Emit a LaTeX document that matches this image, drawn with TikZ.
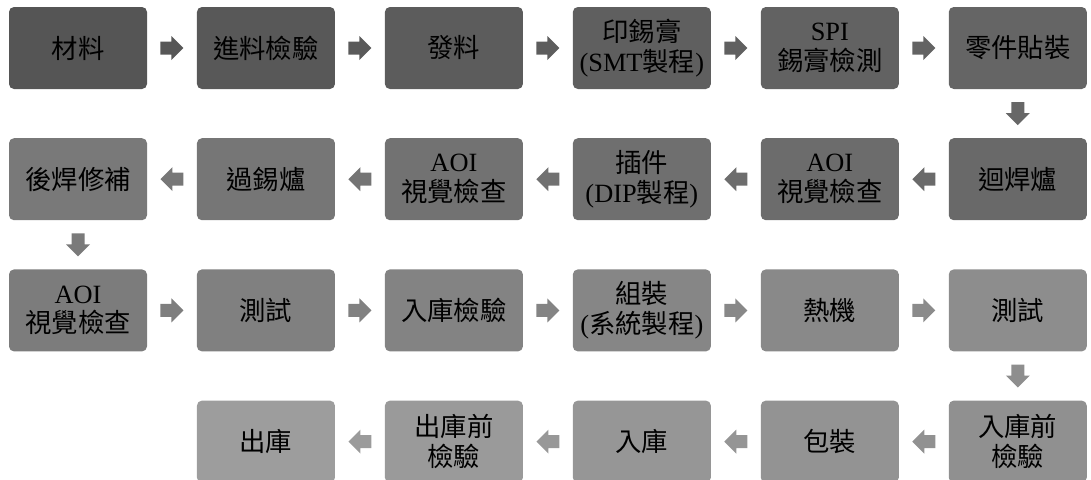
\documentclass[tikz,border=0pt]{standalone}
\usepackage{fontspec}
\setmainfont{Liberation Serif}
\newfontfamily\cjk{Noto Sans CJK TC}
\newcommand{\lat}{\rmfamily}
\usepackage{tikz}
\usetikzlibrary{shapes,arrows}
\usetikzlibrary{positioning,calc}

\begin{document}
\begin{tikzpicture}[auto, node distance=0.97cm and 0.985cm]
\tikzstyle{box}=[rectangle,rounded corners=0.1cm,minimum width=2.76cm,minimum height=1.64cm,
  inner sep=1pt,align=center,text=black,font=\cjk\fontsize{15pt}{17pt}\selectfont]
\tikzset{blk/.pic={\fill[pic actions] (-0.23,0.13) -- (-0.01,0.13) -- (-0.01,0.24) -- (0.23,0)
  -- (-0.01,-0.24) -- (-0.01,-0.13) -- (-0.23,-0.13) -- cycle;}}
\tikzstyle{rarr}=[]
\tikzstyle{larr}=[rotate=180]
\tikzstyle{darr}=[rotate=-90]
\useasboundingbox (0,0) rectangle (21.82,-9.58);
% row 1
\node[box,fill=black!66.7] (a1) at (1.56,-0.96) {材料};
\node[box,fill=black!65.4] (a2) [right=of a1] {進料檢驗};
\node[box,fill=black!64.1] (a3) [right=of a2] {發料};
\node[box,fill=black!62.9] (a4) [right=of a3] {印錫膏\\{\lat (SMT}製程{\lat )}};
\node[box,fill=black!61.6] (a5) [right=of a4] {{\lat SPI}\\錫膏檢測};
\node[box,fill=black!60.3] (a6) [right=of a5] {零件貼裝};
% row 2
\node[box,fill=black!59.0] (b1) [below=of a6] {迴焊爐};
\node[box,fill=black!57.7] (b2) [left=of b1] {{\lat AOI}\\視覺檢查};
\node[box,fill=black!56.4] (b3) [left=of b2] {插件\\{\lat (DIP}製程{\lat )}};
\node[box,fill=black!55.2] (b4) [left=of b3] {{\lat AOI}\\視覺檢查};
\node[box,fill=black!53.9] (b5) [left=of b4] {過錫爐};
\node[box,fill=black!52.6] (b6) [left=of b5] {後焊修補};
% row 3
\node[box,fill=black!51.3] (c1) [below=of b6] {{\lat AOI}\\視覺檢查};
\node[box,fill=black!50.0] (c2) [right=of c1] {測試};
\node[box,fill=black!48.8] (c3) [right=of c2] {入庫檢驗};
\node[box,fill=black!47.5] (c4) [right=of c3] {組裝\\{\lat (}系統製程{\lat )}};
\node[box,fill=black!46.2] (c5) [right=of c4] {熱機};
\node[box,fill=black!44.9] (c6) [right=of c5] {測試};
% row 4
\node[box,fill=black!43.6] (d1) [below=of c6] {入庫前\\檢驗};
\node[box,fill=black!42.3] (d2) [left=of d1] {包裝};
\node[box,fill=black!41.1] (d3) [left=of d2] {入庫};
\node[box,fill=black!39.8] (d4) [left=of d3] {出庫前\\檢驗};
\node[box,fill=black!38.5] (d5) [left=of d4] {出庫};

\path
(a1) -- (a2) pic[midway,rarr,fill=black!66] {blk}
(a2) -- (a3) pic[midway,rarr,fill=black!64.8] {blk}
(a3) -- (a4) pic[midway,rarr,fill=black!63.5] {blk}
(a4) -- (a5) pic[midway,rarr,fill=black!62.2] {blk}
(a5) -- (a6) pic[midway,rarr,fill=black!61] {blk}
(a6) -- (b1) pic[midway,darr,fill=black!59.7] {blk}
(b1) -- (b2) pic[midway,larr,fill=black!58.4] {blk}
(b2) -- (b3) pic[midway,larr,fill=black!57.1] {blk}
(b3) -- (b4) pic[midway,larr,fill=black!55.8] {blk}
(b4) -- (b5) pic[midway,larr,fill=black!54.5] {blk}
(b5) -- (b6) pic[midway,larr,fill=black!53.2] {blk}
(b6) -- (c1) pic[midway,darr,fill=black!52] {blk}
(c1) -- (c2) pic[midway,rarr,fill=black!50.7] {blk}
(c2) -- (c3) pic[midway,rarr,fill=black!49.4] {blk}
(c3) -- (c4) pic[midway,rarr,fill=black!48.1] {blk}
(c4) -- (c5) pic[midway,rarr,fill=black!46.8] {blk}
(c5) -- (c6) pic[midway,rarr,fill=black!45.5] {blk}
(c6) -- (d1) pic[midway,darr,fill=black!44.2] {blk}
(d1) -- (d2) pic[midway,larr,fill=black!43] {blk}
(d2) -- (d3) pic[midway,larr,fill=black!41.7] {blk}
(d3) -- (d4) pic[midway,larr,fill=black!40.4] {blk}
(d4) -- (d5) pic[midway,larr,fill=black!39.1] {blk};

\end{tikzpicture}
\end{document}
